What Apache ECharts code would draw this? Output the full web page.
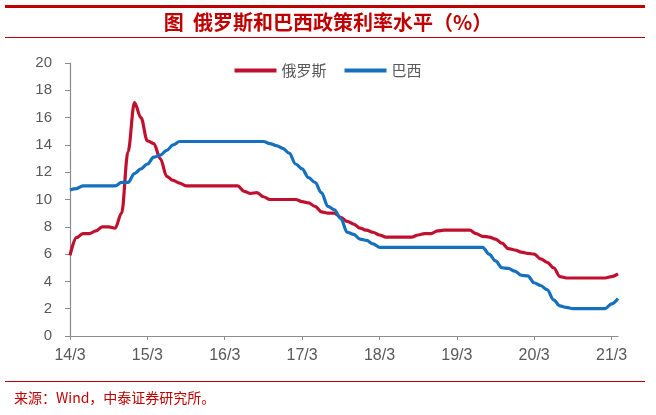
<!DOCTYPE html>
<html>
<head>
<meta charset="utf-8">
<script src="https://cdn.jsdelivr.net/npm/echarts@6/dist/echarts.min.js"></script>
<style>
	html, body { margin: 0; padding: 0; background: #fff; }
	#chart { width: 656px; height: 415px; }
</style>
</head>
<body>
<div id="chart"></div>
<script>
(() => {

	// monthly points, 2014-03 .. 2021-04
	const startYear = 14, startMonth = 3, monthCount = 86;

	const russia = [
		5.9, 7.2, 7.5, 7.5, 7.7, 8.0, 8.0, 7.9, 9.0, 13.5,
		17.1, 16.0, 14.3, 14.1, 13.0, 11.7, 11.4, 11.2, 11.0, 11.0,
		11.0, 11.0, 11.0, 11.0, 11.0, 11.0, 11.0, 10.6, 10.45, 10.5,
		10.2, 10.0, 10.0, 10.0, 10.0, 10.0, 9.85, 9.75, 9.5, 9.1,
		9.0, 9.0, 8.7, 8.4, 8.2, 7.9, 7.75, 7.6, 7.4, 7.25,
		7.25, 7.25, 7.25, 7.25, 7.4, 7.5, 7.5, 7.7, 7.75, 7.75,
		7.75, 7.75, 7.75, 7.5, 7.3, 7.25, 7.1, 6.8, 6.4, 6.3,
		6.15, 6.05, 6.0, 5.65, 5.4, 5.0, 4.35, 4.25, 4.25, 4.25,
		4.25, 4.25, 4.25, 4.25, 4.35, 4.55
	];

	const brazil = [
		10.7, 10.8, 11.0, 11.0, 11.0, 11.0, 11.0, 11.0, 11.25, 11.25,
		11.9, 12.25, 12.6, 13.1, 13.25, 13.6, 14.0, 14.25, 14.25, 14.25,
		14.25, 14.25, 14.25, 14.25, 14.25, 14.25, 14.25, 14.25, 14.25, 14.25,
		14.25, 14.1, 13.95, 13.75, 13.4, 12.6, 12.25, 11.6, 11.25, 10.5,
		9.5, 9.25, 8.6, 7.6, 7.45, 7.1, 7.0, 6.75, 6.5, 6.5,
		6.5, 6.5, 6.5, 6.5, 6.5, 6.5, 6.5, 6.5, 6.5, 6.5,
		6.5, 6.5, 6.5, 6.5, 6.5, 6.0, 5.5, 5.0, 4.95, 4.75,
		4.45, 4.4, 3.9, 3.7, 3.4, 2.65, 2.2, 2.1, 2.0, 2.0,
		2.0, 2.0, 2.0, 2.0, 2.35, 2.75
	];

	const months = [];
	for (let i = 0; i < monthCount; i++) {
		const m = startMonth - 1 + i;
		months.push((startYear + Math.floor(m / 12)) + "/" + (m % 12 + 1));
	}

	const red = "#C0102F";
	const blue = "#1570BE";
	const grey = "#595959";
	const font = "Liberation Sans, Arial, sans-serif";
	const cjk = "Noto Sans CJK SC";

	const myChart = echarts.init(document.getElementById("chart"));

	const option = {
		animation: false,
		grid: { left: 70, right: 38, top: 63, bottom: 79 },
		legend: {
			top: 58,
			left: "center",
			itemWidth: 42,
			itemHeight: 4,
			itemGap: 18,
			icon: "rect",
			textStyle: { color: grey, fontSize: 15, fontFamily: cjk },
			data: ["俄罗斯", "巴西"]
		},
		xAxis: {
			type: "category",
			boundaryGap: false,
			data: months,
			axisLine: { lineStyle: { color: "#8C8C8C", width: 1.2 } },
			axisTick: { interval: 11, length: 4, lineStyle: { color: "#8C8C8C" } },
			axisLabel: { interval: 11, color: grey, fontSize: 16, fontFamily: font, margin: 12 },
			splitLine: { show: false }
		},
		yAxis: {
			type: "value",
			min: 0,
			max: 20,
			interval: 2,
			axisLine: { show: true, lineStyle: { color: "#8C8C8C", width: 1.2 } },
			axisTick: { show: true, length: 5, lineStyle: { color: "#8C8C8C" } },
			axisLabel: { color: grey, fontSize: 15, fontFamily: font, margin: 18 },
			splitLine: { show: false }
		},
		series: [
			{
				name: "俄罗斯",
				type: "line",
				data: russia,
				smooth: 0.35,
				smoothMonotone: "x",
				showSymbol: false,
				lineStyle: { color: red, width: 3.2 },
				itemStyle: { color: red }
			},
			{
				name: "巴西",
				type: "line",
				data: brazil,
				smooth: 0.35,
				smoothMonotone: "x",
				showSymbol: false,
				lineStyle: { color: blue, width: 3.2 },
				itemStyle: { color: blue }
			}
		],
		graphic: [
			{ type: "rect", shape: { x: 5, y: 5, width: 640, height: 3 }, style: { fill: "#C00000" } },
			{
				type: "text", left: "center", top: 12,
				style: { text: "图  俄罗斯和巴西政策利率水平（%）", fill: "#C00000", font: "bold 20px " + cjk }
			},
			{ type: "rect", shape: { x: 5, y: 37, width: 640, height: 1 }, style: { fill: "#C00000" } },
			{ type: "rect", shape: { x: 5, y: 381, width: 640, height: 1 }, style: { fill: "#C00000" } },
			{
				type: "text", left: 14, top: 391,
				style: { text: "来源：Wind，中泰证券研究所。", fill: "#C00000", font: "14px " + cjk }
			}
		]
	};

	myChart.setOption(option);
})();
</script>
</body>
</html>
